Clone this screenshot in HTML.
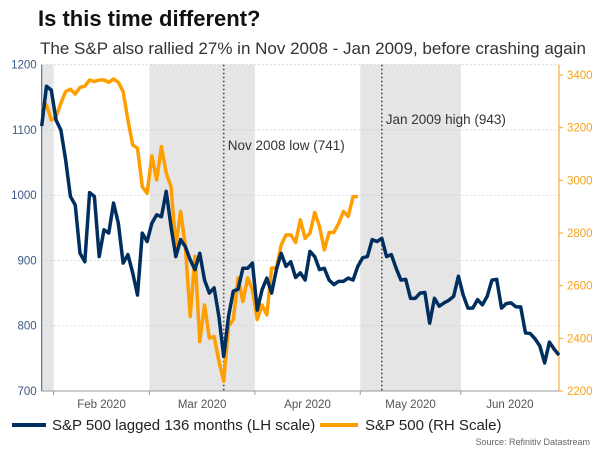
<!DOCTYPE html>
<html><head><meta charset="utf-8"><style>
body{margin:0;background:#fff;font-family:"Liberation Sans",sans-serif}
svg text{font-family:"Liberation Sans",sans-serif}
</style></head><body>
<svg width="600" height="450" viewBox="0 0 600 450">
<g id="root"></g>
</svg>
<script>
const monthLabels=["Feb 2020","Mar 2020","Apr 2020","May 2020","Jun 2020"];
const monthStarts=[3,23,45,67,88];
const leftTicks=[700,800,900,1000,1100,1200];
const rightTicks=[2200,2400,2600,2800,3000,3200,3400];
const lagged=[1106,1167,1161,1115,1100,1054,998,985,911,898,1004,998,906,947,942,988,957,896,909,881,847,942,929,957,970,967,1006,952,906,932,921,901,886,911,870,850,858,814,753,814,853,856,888,888,896,824,855,873,850,886,911,891,898,874,881,
870,914,906,886,888,870,863,868,868,873,870,891,904,906,932,929,934,906,909,888,870,871,842,842,850,851,804,842,830,835,839,845,876,847,827,827,840,832,845,870,871,827,834,835,829,829,789,788,780,769,743,775,764,755];
const spx=[3274,3286,3229,3242,3293,3337,3346,3328,3353,3358,3381,3375,3381,3381,3372,3385,3372,3337,3229,3134,3122,2976,2951,3093,3002,3128,3027,2976,2749,2882,2749,2483,2711,2388,2527,2401,2407,2313,2237,2445,2471,2629,2540,2629,2584,2471,2527,2489,2667,2667,2755,2793,2793,2764,2850,
2780,2799,2878,2825,2736,2802,2802,2837,2882,2863,2938,2938];
const markers=[{i:38,label:"Nov 2008 low (741)"},{i:71,label:"Jan 2009 high (943)"}];
const shades=[[0,3],[23,45],[67,88]];

const X0=41.7,X1=559,Y0=391,Y1=64.7,N=lagged.length;
const x=i=>X0+(X1-X0)*i/(N-1);
const yl=v=>Y0-(v-700)/500*(Y0-Y1);
const yr=v=>Y0-(v-2200)/1200*(Y0-75);
const root=document.getElementById('root');
const NS="http://www.w3.org/2000/svg";
function mk(t,a,txt){const e=document.createElementNS(NS,t);for(const k in a)e.setAttribute(k,a[k]);if(txt!=null)e.textContent=txt;root.appendChild(e);return e;}

shades.forEach(s=>{const a=s[0]===0?X0:x(s[0])-2.4,b=x(s[1])-2.4;
 const r=mk('rect',{x:a,y:Y1,width:b-a,height:Y0-Y1,fill:'#e5e5e5'});
 
 });
leftTicks.forEach(v=>{const l=mk('line',{x1:X0,x2:X1,y1:yl(v),y2:yl(v),stroke:'#cfcfcf','stroke-dasharray':'2,2','stroke-width':0.8});
 
 
 const t=mk('text',{x:X0-5,y:yl(v)+4,'text-anchor':'end','font-size':11.5,fill:'#3c5a86'},v);
 
 });
rightTicks.forEach(v=>{const l=mk('line',{x1:X1,x2:X1+4,y1:yr(v),y2:yr(v),stroke:'#f7a21b'});
 
 
 const t=mk('text',{x:X1+8,y:yr(v)+4,'font-size':11.5,fill:'#f7a21b'},v);
 
 });
let a=mk('line',{x1:X0,x2:X0,y1:Y1,y2:Y0,stroke:'#3c5a86'});
a=mk('line',{x1:X1,x2:X1,y1:Y1,y2:Y0,stroke:'#f7a21b'});
a=mk('line',{x1:X0,x2:X1,y1:Y0,y2:Y0,stroke:'#999'});
monthStarts.forEach((s,k)=>{const tx=x(s)-2.4;
 const l=mk('line',{x1:tx,x2:tx,y1:Y0,y2:Y0+4,stroke:'#999'});
 
 
 const e=k<monthStarts.length-1?x(monthStarts[k+1])-2.4:X1;
 const t=mk('text',{x:(tx+e)/2,y:Y0+17,'text-anchor':'middle','font-size':11.5,fill:'#555'},monthLabels[k]);
 
 });
markers.forEach(m=>{const l=mk('line',{x1:x(m.i),x2:x(m.i),y1:Y1,y2:Y0,stroke:'#444','stroke-width':1.6,'stroke-dasharray':'1.6,2.4'});
 
 
 const t=mk('text',{x:x(m.i)+4,y:m.i===38?150:124,'font-size':13.5,fill:'#333'},m.label);
 
 });
let p=mk('polyline',{points:spx.map((v,i)=>x(i)+','+yr(v)).join(' '),fill:'none',stroke:'#ff9e00','stroke-width':3.5,'stroke-linejoin':'round'});

p=mk('polyline',{points:lagged.map((v,i)=>x(i)+','+yl(v)).join(' '),fill:'none',stroke:'#002f5f','stroke-width':3.5,'stroke-linejoin':'round'});

let t=mk('text',{x:38,y:26,'font-size':22,'font-weight':'bold',fill:'#111'},'Is this time different?');
t=mk('text',{x:40,y:54,'font-size':17,fill:'#333'},'The S&P also rallied 27% in Nov 2008 - Jan 2009, before crashing again');
let l=mk('line',{x1:12,x2:46,y1:425,y2:425,stroke:'#002f5f','stroke-width':4});
t=mk('text',{x:52,y:430,'font-size':15,fill:'#222'},'S&P 500 lagged 136 months (LH scale)');
l=mk('line',{x1:320,x2:358,y1:425,y2:425,stroke:'#ff9e00','stroke-width':4});
t=mk('text',{x:365,y:430,'font-size':15,fill:'#222'},'S&P 500 (RH Scale)');
t=mk('text',{x:590,y:445,'text-anchor':'end','font-size':9,fill:'#666'},'Source: Refinitiv Datastream');
</script>
</body></html>
